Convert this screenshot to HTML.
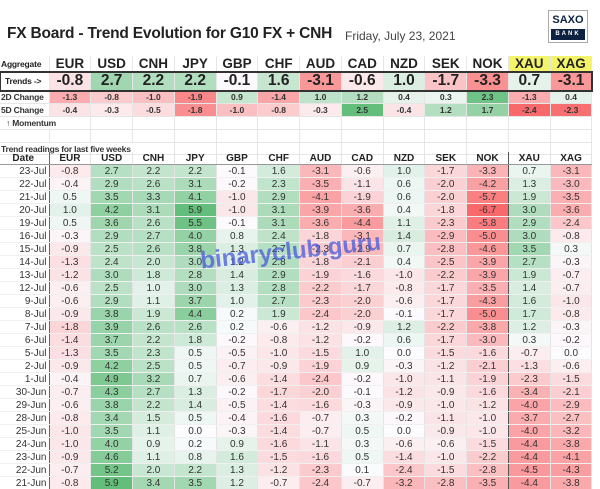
<!DOCTYPE html>
<html><head><meta charset="utf-8">
<style>
body{margin:0;background:#fff;font-family:"Liberation Sans",sans-serif;}
#w{position:relative;width:600px;height:489px;overflow:hidden;background:#fff;}
.t{position:absolute;}
table{border-collapse:collapse;table-layout:fixed;position:absolute;left:0;}
td{padding:0;text-align:center;overflow:hidden;white-space:nowrap;border-right:1px solid #e4e4e4;border-bottom:1px solid #f0f0f0;color:#333;}
td.l{text-align:right;padding-right:2px;font-size:9.5px;border-right:1px solid #666;}
td.sep{border-right:1.5px solid #555;}
#top td{border-color:#e6e6e6;}
.hd td{font-weight:bold;font-size:13.5px;color:#222;}
.tr td{font-size:15.5px;font-weight:bold;color:#222;}
.sm td{font-size:8.5px;font-weight:bold;}
#top td.lb{font-size:8.5px;font-weight:bold;text-align:left;padding-left:1px;letter-spacing:-0.2px;overflow:visible;}
#dat td{font-size:10px;height:12px;}
#dat tr.h td{font-weight:bold;font-size:10px;color:#222;border-bottom:1px solid #999;}
</style></head><body><div id="w">
<div class="t" style="left:7px;top:25px;font-size:15.5px;font-weight:bold;color:#222;letter-spacing:-0.2px">FX Board - Trend Evolution for G10 FX + CNH</div>
<div class="t" style="left:345px;top:29px;font-size:12px;color:#444">Friday, July 23, 2021</div>
<div class="t" style="left:548px;top:10px;width:38px;height:31px;border:1px solid #aaa;background:#fff">
<div style="text-align:center;font-weight:bold;font-size:11px;color:#0d2240;margin-top:3px">SAXO</div>
<div style="position:absolute;left:2px;right:2px;bottom:2px;height:11px;background:#0d2240;color:#fff;font-size:6px;font-weight:bold;letter-spacing:2px;text-align:center;line-height:11px">BANK</div>
</div>
<table id="top" style="top:56px;width:592px">
<colgroup><col style="width:49px"><col span="13" style="width:41.77px"></colgroup>
<tr class="hd" style="height:14px"><td class="lb">Aggregate</td><td>EUR</td><td>USD</td><td>CNH</td><td>JPY</td><td>GBP</td><td>CHF</td><td>AUD</td><td>CAD</td><td>NZD</td><td>SEK</td><td>NOK</td><td style="background:#f4f46a">XAU</td><td style="background:#f4f46a">XAG</td></tr>
<tr class="tr g1" style="height:17px;outline:2px solid #333;outline-offset:-1px"><td class="lb" style="background:#fff;padding-left:5px">Trends -&gt;</td><td>-0.8</td><td>2.7</td><td>2.2</td><td>2.2</td><td>-0.1</td><td>1.6</td><td>-3.1</td><td>-0.6</td><td>1.0</td><td>-1.7</td><td>-3.3</td><td>0.7</td><td>-3.1</td></tr>
<tr class="sm g2" style="height:13px"><td class="lb">2D Change</td><td>-1.3</td><td>-0.8</td><td>-1.0</td><td>-1.9</td><td>0.9</td><td>-1.4</td><td>1.0</td><td>1.2</td><td>0.4</td><td>0.3</td><td>2.3</td><td>-1.3</td><td>0.4</td></tr>
<tr class="sm g2" style="height:13px"><td class="lb">5D Change</td><td>-0.4</td><td>-0.3</td><td>-0.5</td><td>-1.8</td><td>-1.0</td><td>-0.8</td><td>-0.3</td><td>2.5</td><td>-0.4</td><td>1.2</td><td>1.7</td><td>-2.4</td><td>-2.3</td></tr>
<tr style="height:13px"><td colspan="2" class="lb" style="padding-left:6px">↑ Momentum</td><td></td><td></td><td></td><td></td><td></td><td></td><td></td><td></td><td></td><td></td><td></td><td></td></tr>
<tr style="height:13px"><td></td><td></td><td></td><td></td><td></td><td></td><td></td><td></td><td></td><td></td><td></td><td></td><td></td><td></td></tr>
<tr style="height:12px"><td colspan="4" class="lb">Trend readings for last five weeks</td><td></td><td></td><td></td><td></td><td></td><td></td><td></td><td></td><td></td><td></td></tr>
</table>
<table id="dat" style="top:152px;width:592px">
<colgroup><col style="width:49px"><col span="13" style="width:41.77px"></colgroup>
<tr class="h"><td class="l" style="text-align:center">Date</td><td>EUR</td><td>USD</td><td>CNH</td><td>JPY</td><td>GBP</td><td>CHF</td><td>AUD</td><td>CAD</td><td>NZD</td><td>SEK</td><td class="sep">NOK</td><td>XAU</td><td>XAG</td></tr>
<tr><td class="l">23-Jul</td><td>-0.8</td><td>2.7</td><td>2.2</td><td>2.2</td><td>-0.1</td><td>1.6</td><td>-3.1</td><td>-0.6</td><td>1.0</td><td>-1.7</td><td>-3.3</td><td>0.7</td><td>-3.1</td></tr>
<tr><td class="l">22-Jul</td><td>-0.4</td><td>2.9</td><td>2.6</td><td>3.1</td><td>-0.2</td><td>2.3</td><td>-3.5</td><td>-1.1</td><td>0.6</td><td>-2.0</td><td>-4.2</td><td>1.3</td><td>-3.0</td></tr>
<tr><td class="l">21-Jul</td><td>0.5</td><td>3.5</td><td>3.3</td><td>4.1</td><td>-1.0</td><td>2.9</td><td>-4.1</td><td>-1.9</td><td>0.6</td><td>-2.0</td><td>-5.7</td><td>1.9</td><td>-3.5</td></tr>
<tr><td class="l">20-Jul</td><td>1.0</td><td>4.2</td><td>3.1</td><td>5.9</td><td>-1.0</td><td>3.1</td><td>-3.9</td><td>-3.6</td><td>0.4</td><td>-1.8</td><td>-6.7</td><td>3.0</td><td>-3.6</td></tr>
<tr><td class="l">19-Jul</td><td>0.5</td><td>3.6</td><td>2.6</td><td>5.5</td><td>-0.1</td><td>3.1</td><td>-3.6</td><td>-4.4</td><td>1.1</td><td>-2.3</td><td>-5.8</td><td>2.9</td><td>-2.4</td></tr>
<tr><td class="l">16-Jul</td><td>-0.3</td><td>2.9</td><td>2.7</td><td>4.0</td><td>0.8</td><td>2.4</td><td>-1.8</td><td>-3.1</td><td>1.4</td><td>-2.9</td><td>-5.0</td><td>3.0</td><td>-0.8</td></tr>
<tr><td class="l">15-Jul</td><td>-0.9</td><td>2.5</td><td>2.6</td><td>3.8</td><td>1.3</td><td>2.7</td><td>-2.3</td><td>-2.9</td><td>0.7</td><td>-2.8</td><td>-4.6</td><td>3.5</td><td>0.3</td></tr>
<tr><td class="l">14-Jul</td><td>-1.3</td><td>2.4</td><td>2.0</td><td>3.0</td><td>1.2</td><td>2.8</td><td>-1.8</td><td>-2.1</td><td>0.4</td><td>-2.5</td><td>-3.9</td><td>2.7</td><td>-0.3</td></tr>
<tr><td class="l">13-Jul</td><td>-1.2</td><td>3.0</td><td>1.8</td><td>2.8</td><td>1.4</td><td>2.9</td><td>-1.9</td><td>-1.6</td><td>-1.0</td><td>-2.2</td><td>-3.9</td><td>1.9</td><td>-0.7</td></tr>
<tr><td class="l">12-Jul</td><td>-0.6</td><td>2.5</td><td>1.0</td><td>3.0</td><td>1.3</td><td>2.8</td><td>-2.2</td><td>-1.7</td><td>-0.8</td><td>-1.7</td><td>-3.5</td><td>1.4</td><td>-0.7</td></tr>
<tr><td class="l">9-Jul</td><td>-0.6</td><td>2.9</td><td>1.1</td><td>3.7</td><td>1.0</td><td>2.7</td><td>-2.3</td><td>-2.0</td><td>-0.6</td><td>-1.7</td><td>-4.3</td><td>1.6</td><td>-1.0</td></tr>
<tr><td class="l">8-Jul</td><td>-0.9</td><td>3.8</td><td>1.9</td><td>4.4</td><td>0.2</td><td>1.9</td><td>-2.4</td><td>-2.0</td><td>-0.1</td><td>-1.7</td><td>-5.0</td><td>1.7</td><td>-0.8</td></tr>
<tr><td class="l">7-Jul</td><td>-1.8</td><td>3.9</td><td>2.6</td><td>2.6</td><td>0.2</td><td>-0.6</td><td>-1.2</td><td>-0.9</td><td>1.2</td><td>-2.2</td><td>-3.8</td><td>1.2</td><td>-0.3</td></tr>
<tr><td class="l">6-Jul</td><td>-1.4</td><td>3.7</td><td>2.2</td><td>1.8</td><td>-0.2</td><td>-0.8</td><td>-1.2</td><td>-0.2</td><td>0.6</td><td>-1.7</td><td>-3.0</td><td>0.3</td><td>-0.2</td></tr>
<tr><td class="l">5-Jul</td><td>-1.3</td><td>3.5</td><td>2.3</td><td>0.5</td><td>-0.5</td><td>-1.0</td><td>-1.5</td><td>1.0</td><td>0.0</td><td>-1.5</td><td>-1.6</td><td>-0.7</td><td>0.0</td></tr>
<tr><td class="l">2-Jul</td><td>-0.9</td><td>4.2</td><td>2.5</td><td>0.5</td><td>-0.7</td><td>-0.9</td><td>-1.9</td><td>0.9</td><td>-0.3</td><td>-1.2</td><td>-2.1</td><td>-1.3</td><td>-0.6</td></tr>
<tr><td class="l">1-Jul</td><td>-0.4</td><td>4.9</td><td>3.2</td><td>0.7</td><td>-0.6</td><td>-1.4</td><td>-2.4</td><td>-0.2</td><td>-1.0</td><td>-1.1</td><td>-1.9</td><td>-2.3</td><td>-1.5</td></tr>
<tr><td class="l">30-Jun</td><td>-0.7</td><td>4.3</td><td>2.7</td><td>1.3</td><td>-0.2</td><td>-1.7</td><td>-2.0</td><td>-0.1</td><td>-1.2</td><td>-0.9</td><td>-1.6</td><td>-3.4</td><td>-2.1</td></tr>
<tr><td class="l">29-Jun</td><td>-0.6</td><td>3.8</td><td>2.2</td><td>1.4</td><td>-0.5</td><td>-1.4</td><td>-1.6</td><td>-0.3</td><td>-0.9</td><td>-1.0</td><td>-1.2</td><td>-4.0</td><td>-2.9</td></tr>
<tr><td class="l">28-Jun</td><td>-0.8</td><td>3.4</td><td>1.5</td><td>0.5</td><td>-0.4</td><td>-1.6</td><td>-0.7</td><td>0.3</td><td>-0.2</td><td>-1.1</td><td>-1.0</td><td>-3.7</td><td>-2.7</td></tr>
<tr><td class="l">25-Jun</td><td>-1.0</td><td>3.5</td><td>1.1</td><td>0.0</td><td>-0.3</td><td>-1.4</td><td>-0.7</td><td>0.5</td><td>0.0</td><td>-0.9</td><td>-1.0</td><td>-4.0</td><td>-3.2</td></tr>
<tr><td class="l">24-Jun</td><td>-1.0</td><td>4.0</td><td>0.9</td><td>0.2</td><td>0.9</td><td>-1.6</td><td>-1.1</td><td>0.3</td><td>-0.6</td><td>-0.6</td><td>-1.5</td><td>-4.4</td><td>-3.8</td></tr>
<tr><td class="l">23-Jun</td><td>-0.9</td><td>4.6</td><td>1.1</td><td>0.8</td><td>1.6</td><td>-1.5</td><td>-1.6</td><td>0.5</td><td>-1.4</td><td>-1.0</td><td>-2.2</td><td>-4.4</td><td>-4.1</td></tr>
<tr><td class="l">22-Jun</td><td>-0.7</td><td>5.2</td><td>2.0</td><td>2.2</td><td>1.3</td><td>-1.2</td><td>-2.3</td><td>0.1</td><td>-2.4</td><td>-1.5</td><td>-2.8</td><td>-4.5</td><td>-4.3</td></tr>
<tr><td class="l">21-Jun</td><td>-0.8</td><td>5.9</td><td>3.4</td><td>3.5</td><td>1.2</td><td>-0.7</td><td>-2.4</td><td>-0.7</td><td>-3.2</td><td>-2.8</td><td>-3.5</td><td>-4.4</td><td>-3.8</td></tr>
</table>
<div class="t" style="left:200px;top:238px;font-size:24px;font-weight:bold;color:rgba(70,90,220,0.75);transform:rotate(-6deg)">binaryclub.guru</div>
</div>
<script>
function col(v,mn,mx){var W=[252,252,255],G=[99,190,123],R=[248,105,107],t,c;
if(v>=0){t=Math.min(v/mx,1);c=W.map((w,i)=>Math.round(w+(G[i]-w)*t));}
else{t=Math.min(v/mn,1);c=W.map((w,i)=>Math.round(w+(R[i]-w)*t));}
return 'rgb('+c.join(',')+')';}
function paint(rows,mn,mx){rows.forEach(function(r){var c=r.cells;for(var i=1;i<c.length;i++){var v=parseFloat(c[i].textContent);if(!isNaN(v))c[i].style.background=col(v,mn,mx);}});}
paint(Array.from(document.querySelectorAll('#dat tr:not(.h)')),-6.7,5.9);
paint(Array.from(document.querySelectorAll('#top tr.g1')),-4.5,4.5);
paint(Array.from(document.querySelectorAll('#top tr.g2')),-2.4,2.5);
document.querySelectorAll('#dat tr').forEach(function(r){r.cells[11].classList.add('sep');});
</script>
</body></html>
